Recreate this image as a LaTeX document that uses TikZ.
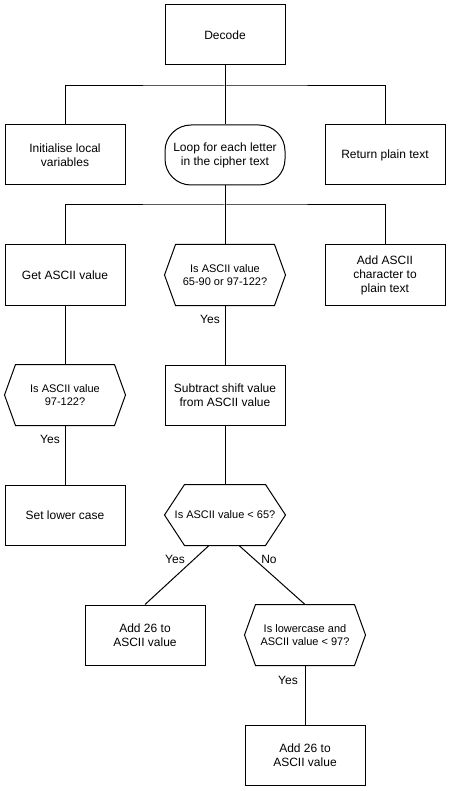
\documentclass[tikz,border=0pt]{standalone}
\usepackage{fontspec}
\setmainfont{Liberation Sans}
\usetikzlibrary{calc}
\begin{document}
\begin{tikzpicture}[x=1pt,y=-1pt,line width=1pt,
  every node/.style={font=\fontsize{12}{14}\selectfont},
  procbox/.style={draw,minimum width=120pt,minimum height=60pt,align=center,inner sep=0pt},
  loopbox/.style={procbox,rounded corners=26pt},
  decbox/.style={minimum width=120pt,minimum height=60pt,align=center,inner sep=0pt,
    font=\fontsize{11}{13.5}\selectfont},
  lbl/.style={font=\fontsize{12}{14}\selectfont,inner sep=0pt}]
\useasboundingbox[fill=white] (0,0) rectangle (451,791);
% hexagonal outline around a decision node: #1 node name, #2 corner indent
\newcommand\hexframe[2]{%
  \draw ([xshift=#2]#1.north west) -- ([xshift=-#2]#1.north east) -- (#1.east)
    -- ([xshift=-#2]#1.south east) -- ([xshift=#2]#1.south west) -- (#1.west) -- cycle;}

% top level
\node[procbox] (decode) at (225,35) {Decode};
\node[procbox] (init) at (65,155) {Initialise local\\variables};
\node[loopbox] (loop) at (225,155) {Loop for each letter\\in the cipher text};
\node[procbox] (ret) at (385,155) {Return plain text};

% loop body
\node[procbox] (getascii) at (65,275) {Get ASCII value};
\node[decbox] (isletter) at (225,275) {Is ASCII value\\65-90 or 97-122?};
\node[procbox] (addchar) at (385,275) {Add ASCII\\character to\\plain text};

\node[decbox] (islower) at (65,395) {Is ASCII value\\97-122?};
\node[procbox] (setlower) at (65,515) {Set lower case};

\node[procbox] (subtract) at (225,395) {Subtract shift value\\from ASCII value};
\node[decbox] (below) at (225,515) {Is ASCII value < 65?};
\node[procbox] (addone) at (145,635) {Add 26 to\\ASCII value};
\node[decbox] (lowbelow) at (305,635) {Is lowercase and\\ASCII value < 97?};
\node[procbox] (addtwo) at (305,755) {Add 26 to\\ASCII value};

\hexframe{isletter}{11pt}
\hexframe{islower}{11pt}
\hexframe{below}{20pt}
\hexframe{lowbelow}{11pt}

% branching buses
\coordinate (busA) at (225,86);
\coordinate (busB) at (225,205);
\draw (decode.south) -- (busA);
\draw (init.north) |- (busA) -| (ret.north);
\draw (busA) -- (loop.north);
\draw (loop.south) -- (busB);
\draw (getascii.north) |- (busB) -| (addchar.north);
\draw (busB) -- (isletter.north);

% flow lines
\draw (getascii) -- (islower);
\draw (islower) -- (setlower);
\draw (isletter) -- (subtract);
\draw (subtract) -- (below);
\draw ([xshift=-16pt]below.south) -- (addone.north);
\draw ([xshift=14pt]below.south) -- (lowbelow.north);
\draw (lowbelow) -- (addtwo);

% labels
\node[lbl] (yesA) at (210,319) {Yes};
\node[lbl] (yesB) at (50,439) {Yes};
\node[lbl] (yesC) at (175,559) {Yes};
\node[lbl] (noC) at (269,559) {No};
\node[lbl] (yesD) at (288,680) {Yes};
\end{tikzpicture}
\end{document}
